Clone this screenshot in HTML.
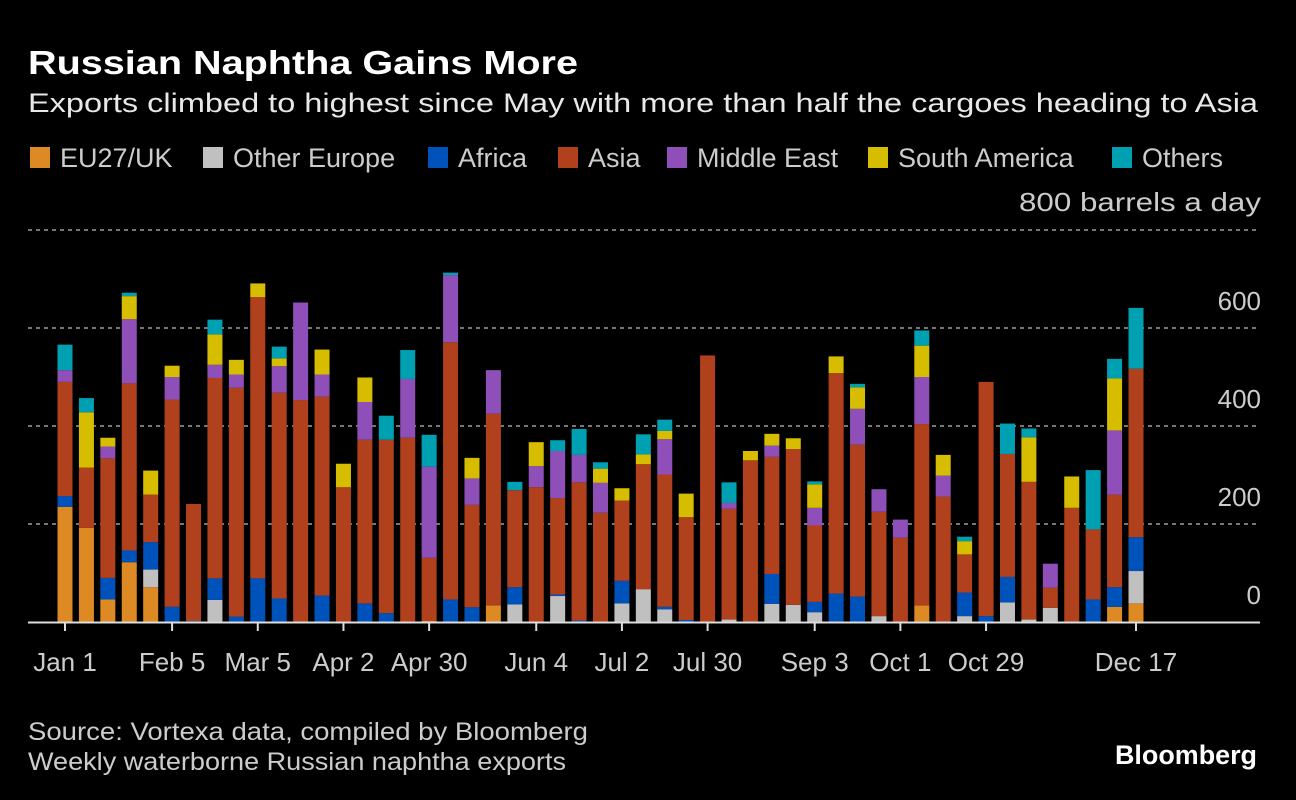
<!DOCTYPE html>
<html><head><meta charset="utf-8"><style>
html,body{margin:0;padding:0;background:#000;}
svg{display:block;font-family:"Liberation Sans",sans-serif;}
</style></head><body>
<svg id="chart" width="1296" height="800" viewBox="0 0 1296 800">
<rect width="1296" height="800" fill="#000"/>
<text x="28" y="74" fill="#fff" font-size="33" font-weight="bold" textLength="550" lengthAdjust="spacingAndGlyphs">Russian Naphtha Gains More</text>
<text x="28" y="112" fill="#e8e8e8" font-size="27" textLength="1230" lengthAdjust="spacingAndGlyphs">Exports climbed to highest since May with more than half the cargoes heading to Asia</text>
<g id="legend"></g>
<text x="1261" y="211" fill="#ccc" font-size="26" text-anchor="end" textLength="242" lengthAdjust="spacingAndGlyphs">800 barrels a day</text>
<g id="grid"></g>
<g id="bars"></g>
<g id="xaxis"></g>
<text x="28" y="740" fill="#ccc" font-size="25" textLength="560" lengthAdjust="spacingAndGlyphs">Source: Vortexa data, compiled by Bloomberg</text>
<text x="28" y="770" fill="#ccc" font-size="25" textLength="538" lengthAdjust="spacingAndGlyphs">Weekly waterborne Russian naphtha exports</text>
<text x="1257" y="764" fill="#fff" font-size="27" font-weight="bold" text-anchor="end" textLength="142" lengthAdjust="spacingAndGlyphs">Bloomberg</text>
</svg>
<script>
const seriesNames = ["EU27/UK","Other Europe","Africa","Asia","Middle East","South America","Others"];
const colors = ["#dd8a24","#c0c0c0","#0052bb","#b1401d","#8e50b8","#d6bd00","#00a0b3"];
const eu   = [235,192,46,122,71,0,0,0,0,0,0,0,0,0,0,0,0,2,0,0,34,0,0,0,0,0,0,0,0,0,0,0,0,0,0,0,0,0,0,0,34,0,0,0,0,0,0,0,0,31,38];
const oe   = [0,0,0,0,36,0,0,45,0,0,0,0,0,0,0,0,0,0,0,0,0,36,0,53,0,0,38,67,26,0,0,5,0,37,35,20,0,0,12,0,0,0,12,0,40,5,29,0,0,0,66];
const af   = [22,0,44,24,56,31,2,44,11,89,48,0,54,0,38,18,0,0,46,30,0,35,0,3,3,0,46,0,5,4,0,0,0,61,0,21,58,52,0,0,0,0,48,12,52,0,0,0,46,40,69];
const asia = [233,123,244,341,97,423,239,409,467,574,420,453,406,275,334,354,376,129,525,209,391,198,275,197,282,223,164,255,270,210,544,226,330,239,318,156,450,310,213,172,370,256,78,478,251,281,41,233,143,189,344];
const me   = [24,0,24,131,0,46,0,27,27,0,54,199,45,0,77,0,120,186,137,54,89,0,43,96,56,61,0,0,72,0,0,12,0,23,0,36,0,73,46,37,96,43,0,0,0,0,49,0,0,131,0];
const sa   = [0,113,18,47,49,23,0,62,30,28,16,0,51,48,50,0,0,0,0,42,0,0,49,0,0,29,25,20,17,48,0,0,19,24,22,48,34,44,0,0,64,42,27,0,0,91,0,64,0,106,0];
const oth  = [52,29,0,7,0,0,0,30,0,0,24,0,0,0,0,49,59,65,5,0,0,17,0,22,53,13,0,41,23,0,0,42,0,0,0,6,0,7,0,0,31,0,9,0,62,18,0,0,121,40,124];
const series = [eu,oe,af,asia,me,sa,oth];
const tickLabels = ["Jan 1","Feb 5","Mar 5","Apr 2","Apr 30","Jun 4","Jul 2","Jul 30","Sep 3","Oct 1","Oct 29","Dec 17"];
const tickIndex = [0,5,9,13,17,22,26,30,35,39,43,50];
const yTicks = [0,200,400,600,800];

const NS="http://www.w3.org/2000/svg";
function el(tag,attrs,parent){const e=document.createElementNS(NS,tag);for(const k in attrs)e.setAttribute(k,attrs[k]);parent.appendChild(e);return e;}
const y = v => 622 - v*0.49;
const x = i => 65 + i*(1136-65)/50;
const bw = 15;

const grid=document.getElementById('grid');
yTicks.forEach(t=>{
  if(t>0){
    const l=el('line',{x1:28,x2:1260,y1:y(t),y2:y(t),stroke:'#777','stroke-width':2,'stroke-dasharray':'4 4'},grid);
    
    
  }
  if(t<800){
    const tx=el('text',{x:1261,y:y(t)-18,fill:'#ccc','font-size':26,'text-anchor':'end'},grid);
    tx.textContent=t;
    
    
  }
});

const bars=document.getElementById('bars');
for(let i=0;i<asia.length;i++){
  let base=0;
  for(let s=0;s<series.length;s++){
    const v=series[s][i];
    if(v>0){
      const r=el('rect',{x:x(i)-bw/2,y:y(base+v),width:bw,height:v*0.49,fill:colors[s]},bars);
      
      
    }
    base+=v;
  }
}

const xa=document.getElementById('xaxis');
const bl=el('line',{x1:28,x2:1260,y1:622.5,y2:622.5,stroke:'#ddd','stroke-width':2},xa);


tickIndex.forEach((ti,k)=>{
  const tk=el('line',{x1:x(ti),x2:x(ti),y1:623,y2:631,stroke:'#ddd','stroke-width':2},xa);
  
  
  const t=el('text',{x:x(ti),y:671,fill:'#ccc','font-size':26,'text-anchor':'middle'},xa);
  t.textContent=tickLabels[k];
  
  
});

const lg=document.getElementById('legend');
const legX=[30,203,428,558,667,868,1112];
seriesNames.forEach((n,s)=>{
  const r=el('rect',{x:legX[s],y:147,width:20,height:21,fill:colors[s]},lg);
  
  
  const t=el('text',{x:legX[s]+30,y:167,fill:'#ccc','font-size':27},lg);
  t.textContent=n;
  
  
});
</script>
</body></html>
